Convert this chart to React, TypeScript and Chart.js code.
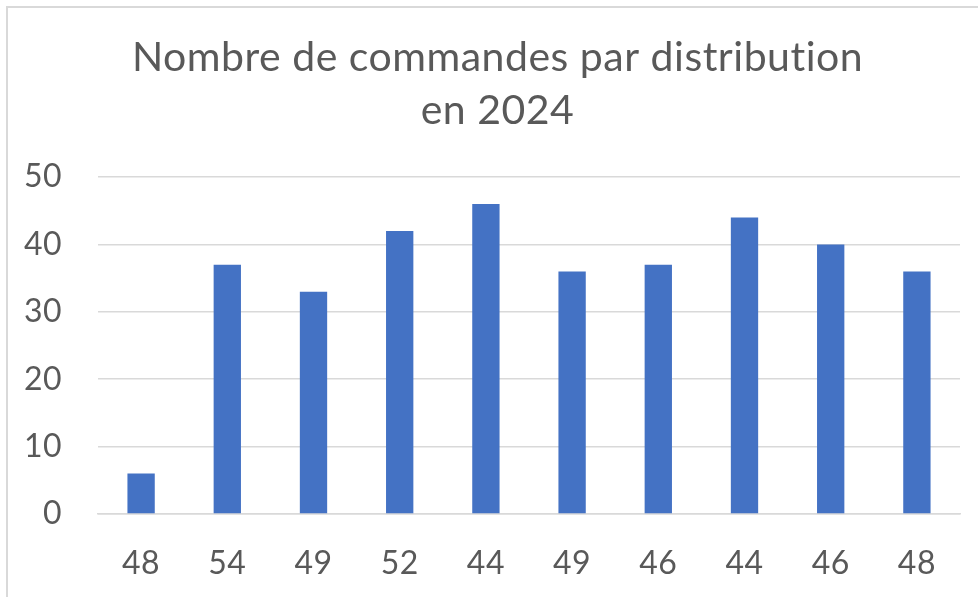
import React, { useEffect, useRef } from "react";
import { Chart, registerables } from "chart.js";

Chart.register(...registerables);

const categories: string[] = ["48", "54", "49", "52", "44", "49", "46", "44", "46", "48"];
const commandes: number[] = [6, 37, 33, 42, 46, 36, 37, 44, 40, 36];
const titleLines: string[] = ["Nombre de commandes par distribution", "en 2024"];
const yMin = 0;
const yMax = 50;
const yStep = 10;

const FONT = "Lato, 'Open Sans', sans-serif";
const TEXT = "#595959";
const GRID = "#d9d9d9";

const spacingPlugin = {
  id: "spacing",
  beforeDraw(chart: any) {
    try {
      chart.ctx.letterSpacing = "0.5px";
    } catch (e) {}
  },
};

export default function App() {
  const ref = useRef<HTMLCanvasElement | null>(null);

  useEffect(() => {
    if (!ref.current) return;
    const chart = new Chart(ref.current, {
      type: "bar",
      data: {
        labels: categories,
        datasets: [
          {
            label: "Commandes",
            data: commandes,
            backgroundColor: "#4472c4",
            borderWidth: 0,
            categoryPercentage: 1,
            barPercentage: 0.317,
          },
        ],
      },
      plugins: [spacingPlugin],
      options: {
        animation: false,
        responsive: false,
        maintainAspectRatio: false,
        layout: { padding: { left: 0, right: 0, top: 0, bottom: 0 } },
        plugins: {
          legend: { display: false },
          tooltip: { enabled: false },
          title: {
            display: true,
            text: titleLines,
            color: TEXT,
            font: { family: FONT, size: 41, weight: "normal", lineHeight: 1.3 },
            padding: { top: 31, bottom: 39.5 },
          },
        },
        scales: {
          x: {
            grid: { display: false, drawTicks: false },
            border: { display: true, color: GRID, width: 1.5 },
            ticks: {
              color: TEXT,
              font: { family: FONT, size: 32 },
              padding: 30,
              maxRotation: 0,
              autoSkip: false,
            },
            afterFit: (s: any) => {
              s.height = 83;
            },
          },
          y: {
            min: yMin,
            max: yMax,
            grid: { color: GRID, lineWidth: 1.5, drawTicks: false },
            border: { display: false },
            ticks: {
              stepSize: yStep,
              color: TEXT,
              font: { family: FONT, size: 32 },
              padding: 36,
            },
            afterFit: (s: any) => {
              s.width = 98;
            },
          },
          spacer: {
            type: "linear",
            position: "right",
            min: yMin,
            max: yMax,
            grid: { display: false, drawTicks: false },
            border: { display: false },
            ticks: { display: false },
            afterFit: (s: any) => {
              s.width = 35;
            },
          },
        },
      },
    });
    return () => chart.destroy();
  }, []);

  return (
    <div
      style={{
        position: "fixed",
        left: 0,
        top: 0,
        width: 978,
        height: 597,
        overflow: "hidden",
        background: "#ffffff",
      }}
    >
      <div
        style={{
          position: "absolute",
          left: 6,
          top: 6,
          width: 1100,
          height: 1100,
          border: "2px solid #d9d9d9",
          boxSizing: "border-box",
        }}
      />
      <canvas
        ref={ref}
        width={995}
        height={597}
        style={{ position: "absolute", left: 0, top: 0, width: 995, height: 597 }}
      />
    </div>
  );
}
